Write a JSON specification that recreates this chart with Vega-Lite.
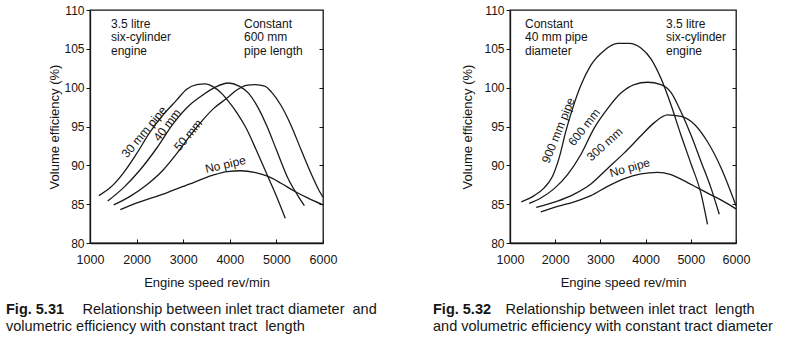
{
  "$schema": "https://vega.github.io/schema/vega-lite/v6.json",
  "padding": {"left": 5, "top": 3, "right": 0, "bottom": 0},
  "background": "white",
  "bounds": "flush",
  "spacing": 187,
  "config": {
    "font": "Liberation Sans",
    "view": {"stroke": "#151515", "strokeWidth": 1.3},
    "axis": {"domainColor": "#151515", "domainWidth": 1.3, "tickColor": "#151515", "labelColor": "#151515", "titleColor": "#151515", "labelFontSize": 12.5, "titleFontSize": 13, "titleFontWeight": "normal", "grid": false, "labelFlush": false},
    "text": {"font": "Liberation Sans", "fontSize": 12, "color": "#151515"}
  },
  "datasets": {
    "d531": [
      {"s": "30 mm", "rpm": 1190, "eff": 86.1}, {"s": "30 mm", "rpm": 1430, "eff": 87.1}, {"s": "30 mm", "rpm": 1715, "eff": 89.0}, {"s": "30 mm", "rpm": 2000, "eff": 91.5}, {"s": "30 mm", "rpm": 2290, "eff": 94.3}, {"s": "30 mm", "rpm": 2570, "eff": 96.5}, {"s": "30 mm", "rpm": 2860, "eff": 98.4}, {"s": "30 mm", "rpm": 3075, "eff": 99.8}, {"s": "30 mm", "rpm": 3290, "eff": 100.4}, {"s": "30 mm", "rpm": 3470, "eff": 100.5}, {"s": "30 mm", "rpm": 3650, "eff": 100.1}, {"s": "30 mm", "rpm": 3800, "eff": 99.4}, {"s": "30 mm", "rpm": 3950, "eff": 98.4}, {"s": "30 mm", "rpm": 4150, "eff": 96.8}, {"s": "30 mm", "rpm": 4350, "eff": 94.8}, {"s": "30 mm", "rpm": 4580, "eff": 91.8}, {"s": "30 mm", "rpm": 4800, "eff": 88.8}, {"s": "30 mm", "rpm": 5010, "eff": 85.9}, {"s": "30 mm", "rpm": 5190, "eff": 83.2},
      {"s": "40 mm", "rpm": 1380, "eff": 85.4}, {"s": "40 mm", "rpm": 1715, "eff": 87.1}, {"s": "40 mm", "rpm": 2073, "eff": 89.4}, {"s": "40 mm", "rpm": 2430, "eff": 92.2}, {"s": "40 mm", "rpm": 2790, "eff": 95.4}, {"s": "40 mm", "rpm": 3145, "eff": 97.8}, {"s": "40 mm", "rpm": 3430, "eff": 99.1}, {"s": "40 mm", "rpm": 3700, "eff": 100.1}, {"s": "40 mm", "rpm": 3960, "eff": 100.6}, {"s": "40 mm", "rpm": 4200, "eff": 100.2}, {"s": "40 mm", "rpm": 4400, "eff": 99.3}, {"s": "40 mm", "rpm": 4600, "eff": 97.5}, {"s": "40 mm", "rpm": 4800, "eff": 95.0}, {"s": "40 mm", "rpm": 5000, "eff": 92.0}, {"s": "40 mm", "rpm": 5250, "eff": 88.3}, {"s": "40 mm", "rpm": 5450, "eff": 86.2}, {"s": "40 mm", "rpm": 5600, "eff": 84.8},
      {"s": "50 mm", "rpm": 1510, "eff": 84.9}, {"s": "50 mm", "rpm": 1860, "eff": 86.0}, {"s": "50 mm", "rpm": 2220, "eff": 87.5}, {"s": "50 mm", "rpm": 2570, "eff": 89.4}, {"s": "50 mm", "rpm": 2860, "eff": 91.5}, {"s": "50 mm", "rpm": 3145, "eff": 93.8}, {"s": "50 mm", "rpm": 3400, "eff": 95.7}, {"s": "50 mm", "rpm": 3650, "eff": 97.3}, {"s": "50 mm", "rpm": 3950, "eff": 98.7}, {"s": "50 mm", "rpm": 4150, "eff": 99.7}, {"s": "50 mm", "rpm": 4350, "eff": 100.3}, {"s": "50 mm", "rpm": 4550, "eff": 100.4}, {"s": "50 mm", "rpm": 4750, "eff": 100.2}, {"s": "50 mm", "rpm": 4900, "eff": 99.4}, {"s": "50 mm", "rpm": 5100, "eff": 97.7}, {"s": "50 mm", "rpm": 5310, "eff": 95.2}, {"s": "50 mm", "rpm": 5530, "eff": 92.0}, {"s": "50 mm", "rpm": 5740, "eff": 89.0}, {"s": "50 mm", "rpm": 5920, "eff": 86.7}, {"s": "50 mm", "rpm": 6000, "eff": 85.9},
      {"s": "No pipe", "rpm": 1650, "eff": 84.3}, {"s": "No pipe", "rpm": 2070, "eff": 85.3}, {"s": "No pipe", "rpm": 2430, "eff": 86.0}, {"s": "No pipe", "rpm": 2790, "eff": 86.8}, {"s": "No pipe", "rpm": 3145, "eff": 87.6}, {"s": "No pipe", "rpm": 3430, "eff": 88.3}, {"s": "No pipe", "rpm": 3670, "eff": 88.8}, {"s": "No pipe", "rpm": 3950, "eff": 89.2}, {"s": "No pipe", "rpm": 4240, "eff": 89.3}, {"s": "No pipe", "rpm": 4530, "eff": 89.1}, {"s": "No pipe", "rpm": 4810, "eff": 88.6}, {"s": "No pipe", "rpm": 5100, "eff": 87.7}, {"s": "No pipe", "rpm": 5380, "eff": 86.7}, {"s": "No pipe", "rpm": 5670, "eff": 85.8}, {"s": "No pipe", "rpm": 6000, "eff": 84.9}
    ],
    "d532": [
      {"s": "900 mm", "rpm": 1250, "eff": 85.3}, {"s": "900 mm", "rpm": 1535, "eff": 86.1}, {"s": "900 mm", "rpm": 1756, "eff": 87.1}, {"s": "900 mm", "rpm": 1941, "eff": 88.6}, {"s": "900 mm", "rpm": 2089, "eff": 91.0}, {"s": "900 mm", "rpm": 2236, "eff": 94.4}, {"s": "900 mm", "rpm": 2384, "eff": 97.3}, {"s": "900 mm", "rpm": 2568, "eff": 100.3}, {"s": "900 mm", "rpm": 2790, "eff": 102.9}, {"s": "900 mm", "rpm": 3085, "eff": 104.8}, {"s": "900 mm", "rpm": 3380, "eff": 105.7}, {"s": "900 mm", "rpm": 3638, "eff": 105.7}, {"s": "900 mm", "rpm": 3897, "eff": 105.1}, {"s": "900 mm", "rpm": 4118, "eff": 103.7}, {"s": "900 mm", "rpm": 4339, "eff": 101.2}, {"s": "900 mm", "rpm": 4561, "eff": 97.8}, {"s": "900 mm", "rpm": 4782, "eff": 93.9}, {"s": "900 mm", "rpm": 5004, "eff": 90.2}, {"s": "900 mm", "rpm": 5225, "eff": 86.4}, {"s": "900 mm", "rpm": 5370, "eff": 82.4},
      {"s": "600 mm", "rpm": 1424, "eff": 85.1}, {"s": "600 mm", "rpm": 1683, "eff": 85.8}, {"s": "600 mm", "rpm": 1978, "eff": 87.0}, {"s": "600 mm", "rpm": 2273, "eff": 88.8}, {"s": "600 mm", "rpm": 2568, "eff": 91.4}, {"s": "600 mm", "rpm": 2863, "eff": 94.8}, {"s": "600 mm", "rpm": 3159, "eff": 97.3}, {"s": "600 mm", "rpm": 3454, "eff": 99.3}, {"s": "600 mm", "rpm": 3749, "eff": 100.4}, {"s": "600 mm", "rpm": 4044, "eff": 100.7}, {"s": "600 mm", "rpm": 4339, "eff": 100.4}, {"s": "600 mm", "rpm": 4561, "eff": 99.4}, {"s": "600 mm", "rpm": 4782, "eff": 96.9}, {"s": "600 mm", "rpm": 5004, "eff": 93.9}, {"s": "600 mm", "rpm": 5225, "eff": 90.5}, {"s": "600 mm", "rpm": 5446, "eff": 87.1}, {"s": "600 mm", "rpm": 5630, "eff": 83.7},
      {"s": "300 mm", "rpm": 1580, "eff": 84.6}, {"s": "300 mm", "rpm": 2052, "eff": 85.4}, {"s": "300 mm", "rpm": 2421, "eff": 86.3}, {"s": "300 mm", "rpm": 2790, "eff": 87.6}, {"s": "300 mm", "rpm": 3159, "eff": 89.6}, {"s": "300 mm", "rpm": 3528, "eff": 91.6}, {"s": "300 mm", "rpm": 3897, "eff": 93.8}, {"s": "300 mm", "rpm": 4192, "eff": 95.5}, {"s": "300 mm", "rpm": 4487, "eff": 96.5}, {"s": "300 mm", "rpm": 4782, "eff": 96.3}, {"s": "300 mm", "rpm": 5077, "eff": 95.3}, {"s": "300 mm", "rpm": 5373, "eff": 93.0}, {"s": "300 mm", "rpm": 5668, "eff": 89.7}, {"s": "300 mm", "rpm": 6000, "eff": 84.8},
      {"s": "No pipe", "rpm": 1683, "eff": 84.0}, {"s": "No pipe", "rpm": 2052, "eff": 84.7}, {"s": "No pipe", "rpm": 2421, "eff": 85.3}, {"s": "No pipe", "rpm": 2790, "eff": 86.1}, {"s": "No pipe", "rpm": 3159, "eff": 87.3}, {"s": "No pipe", "rpm": 3528, "eff": 88.3}, {"s": "No pipe", "rpm": 3897, "eff": 88.9}, {"s": "No pipe", "rpm": 4266, "eff": 89.1}, {"s": "No pipe", "rpm": 4561, "eff": 88.8}, {"s": "No pipe", "rpm": 4856, "eff": 88.0}, {"s": "No pipe", "rpm": 5151, "eff": 87.1}, {"s": "No pipe", "rpm": 5446, "eff": 86.2}, {"s": "No pipe", "rpm": 5742, "eff": 85.3}, {"s": "No pipe", "rpm": 6000, "eff": 84.4}
    ]
  },
  "hconcat": [
    {
      "width": 233,
      "height": 233,
      "title": {
        "text": "Fig. 5.31",
        "subtitle": ["\u200b\u00a0\u00a0\u00a0\u00a0\u00a0\u00a0\u00a0\u00a0\u00a0\u00a0\u00a0\u00a0\u00a0\u00a0\u00a0\u00a0\u00a0\u00a0\u00a0Relationship between inlet tract diameter\u00a0 and", "volumetric efficiency with constant tract\u00a0 length"],
        "orient": "bottom", "anchor": "start", "frame": "group", "dx": -84, "offset": 13,
        "font": "Liberation Sans", "fontSize": 14.5, "fontWeight": "bold", "color": "#151515",
        "subtitleFont": "Liberation Sans", "subtitleFontSize": 14.5, "subtitleColor": "#151515", "subtitlePadding": -14.5, "subtitleLineHeight": 17
      },
      "resolve": {"axis": {"y": "independent"}},
      "layer": [
        {
          "data": {"name": "d531"},
          "mark": {"type": "line", "interpolate": "monotone", "color": "#1a1a1a", "strokeWidth": 1.3},
          "encoding": {
            "x": {"field": "rpm", "type": "quantitative", "scale": {"domain": [1000, 6000], "nice": false},
                  "axis": {"values": [1000, 2000, 3000, 4000, 5000, 6000], "format": "d", "tickSize": -4, "labelPadding": 14, "title": "Engine speed rev/min", "titlePadding": 11}},
            "y": {"field": "eff", "type": "quantitative", "scale": {"domain": [80, 110], "nice": false, "zero": false},
                  "axis": {"values": [80, 85, 90, 95, 100, 105, 110], "tickSize": 4, "labelPadding": 2, "labelFontSize": 12, "title": "Volume efficiency (%)", "titlePadding": 2}},
            "detail": {"field": "s"}
          }
        },
        {
          "data": {"name": "d531"},
          "mark": {"type": "line", "opacity": 0},
          "encoding": {
            "x": {"field": "rpm", "type": "quantitative"},
            "y": {"field": "eff", "type": "quantitative", "axis": {"orient": "right", "values": [85, 90, 95, 100, 105], "labels": false, "tickSize": -4, "domain": false, "title": null}},
            "detail": {"field": "s"}
          }
        },
        {"data": {"values": [{}]}, "mark": {"type": "text", "align": "left", "baseline": "top", "lineHeight": 13.5},
         "encoding": {"x": {"datum": 1450, "type": "quantitative"}, "y": {"datum": 108.85, "type": "quantitative", "axis": null}, "text": {"value": ["3.5 litre", "six-cylinder", "engine"]}}},
        {"data": {"values": [{}]}, "mark": {"type": "text", "align": "left", "baseline": "top", "lineHeight": 13.5},
         "encoding": {"x": {"datum": 4305, "type": "quantitative"}, "y": {"datum": 108.85, "type": "quantitative", "axis": null}, "text": {"value": ["Constant", "600 mm", "pipe length"]}}},
        {"data": {"values": [{}]}, "mark": {"type": "text", "angle": -50, "align": "center", "baseline": "middle"},
         "encoding": {"x": {"datum": 2163, "type": "quantitative"}, "y": {"datum": 94.3, "type": "quantitative", "axis": null}, "text": {"value": "30 mm pipe"}}},
        {"data": {"values": [{}]}, "mark": {"type": "text", "angle": -53, "align": "center", "baseline": "middle"},
         "encoding": {"x": {"datum": 2652, "type": "quantitative"}, "y": {"datum": 95.2, "type": "quantitative", "axis": null}, "text": {"value": "40 mm"}}},
        {"data": {"values": [{}]}, "mark": {"type": "text", "angle": -50, "align": "center", "baseline": "middle"},
         "encoding": {"x": {"datum": 3107, "type": "quantitative"}, "y": {"datum": 93.9, "type": "quantitative", "axis": null}, "text": {"value": "50 mm"}}},
        {"data": {"values": [{}]}, "mark": {"type": "text", "angle": -13, "align": "center", "baseline": "middle"},
         "encoding": {"x": {"datum": 3906, "type": "quantitative"}, "y": {"datum": 90.1, "type": "quantitative", "axis": null}, "text": {"value": "No pipe"}}}
      ]
    },
    {
      "width": 226,
      "height": 233,
      "title": {
        "text": "Fig. 5.32",
        "subtitle": ["\u200b\u00a0\u00a0\u00a0\u00a0\u00a0\u00a0\u00a0\u00a0\u00a0\u00a0\u00a0\u00a0\u00a0\u00a0\u00a0\u00a0\u00a0\u00a0Relationship between inlet tract\u00a0 length", "and volumetric efficiency with constant tract diameter"],
        "orient": "bottom", "anchor": "start", "frame": "group", "dx": -77, "offset": 13,
        "font": "Liberation Sans", "fontSize": 14.5, "fontWeight": "bold", "color": "#151515",
        "subtitleFont": "Liberation Sans", "subtitleFontSize": 14.5, "subtitleColor": "#151515", "subtitlePadding": -14.5, "subtitleLineHeight": 17
      },
      "resolve": {"axis": {"y": "independent"}},
      "layer": [
        {
          "data": {"name": "d532"},
          "mark": {"type": "line", "interpolate": "monotone", "color": "#1a1a1a", "strokeWidth": 1.3},
          "encoding": {
            "x": {"field": "rpm", "type": "quantitative", "scale": {"domain": [1000, 6000], "nice": false},
                  "axis": {"values": [1000, 2000, 3000, 4000, 5000, 6000], "format": "d", "tickSize": -4, "labelPadding": 14, "title": "Engine speed rev/min", "titlePadding": 11}},
            "y": {"field": "eff", "type": "quantitative", "scale": {"domain": [80, 110], "nice": false, "zero": false},
                  "axis": {"values": [80, 85, 90, 95, 100, 105, 110], "tickSize": 4, "labelPadding": 2, "labelFontSize": 12, "title": "Volume efficiency (%)", "titlePadding": 9}},
            "detail": {"field": "s"}
          }
        },
        {
          "data": {"name": "d532"},
          "mark": {"type": "line", "opacity": 0},
          "encoding": {
            "x": {"field": "rpm", "type": "quantitative"},
            "y": {"field": "eff", "type": "quantitative", "axis": {"orient": "right", "values": [85, 90, 95, 100, 105], "labels": false, "tickSize": -4, "domain": false, "title": null}},
            "detail": {"field": "s"}
          }
        },
        {"data": {"values": [{}]}, "mark": {"type": "text", "align": "left", "baseline": "top", "lineHeight": 13.5},
         "encoding": {"x": {"datum": 1332, "type": "quantitative"}, "y": {"datum": 108.85, "type": "quantitative", "axis": null}, "text": {"value": ["Constant", "40 mm pipe", "diameter"]}}},
        {"data": {"values": [{}]}, "mark": {"type": "text", "align": "left", "baseline": "top", "lineHeight": 13.5},
         "encoding": {"x": {"datum": 4451, "type": "quantitative"}, "y": {"datum": 108.85, "type": "quantitative", "axis": null}, "text": {"value": ["3.5 litre", "six-cylinder", "engine"]}}},
        {"data": {"values": [{}]}, "mark": {"type": "text", "angle": -68, "align": "center", "baseline": "middle"},
         "encoding": {"x": {"datum": 2071, "type": "quantitative"}, "y": {"datum": 94.5, "type": "quantitative", "axis": null}, "text": {"value": "900 mm pipe"}}},
        {"data": {"values": [{}]}, "mark": {"type": "text", "angle": -52, "align": "center", "baseline": "middle"},
         "encoding": {"x": {"datum": 2640, "type": "quantitative"}, "y": {"datum": 94.9, "type": "quantitative", "axis": null}, "text": {"value": "600 mm"}}},
        {"data": {"values": [{}]}, "mark": {"type": "text", "angle": -42, "align": "center", "baseline": "middle"},
         "encoding": {"x": {"datum": 3095, "type": "quantitative"}, "y": {"datum": 92.7, "type": "quantitative", "axis": null}, "text": {"value": "300 mm"}}},
        {"data": {"values": [{}]}, "mark": {"type": "text", "angle": -16, "align": "center", "baseline": "middle"},
         "encoding": {"x": {"datum": 3650, "type": "quantitative"}, "y": {"datum": 89.7, "type": "quantitative", "axis": null}, "text": {"value": "No pipe"}}}
      ]
    }
  ]
}
